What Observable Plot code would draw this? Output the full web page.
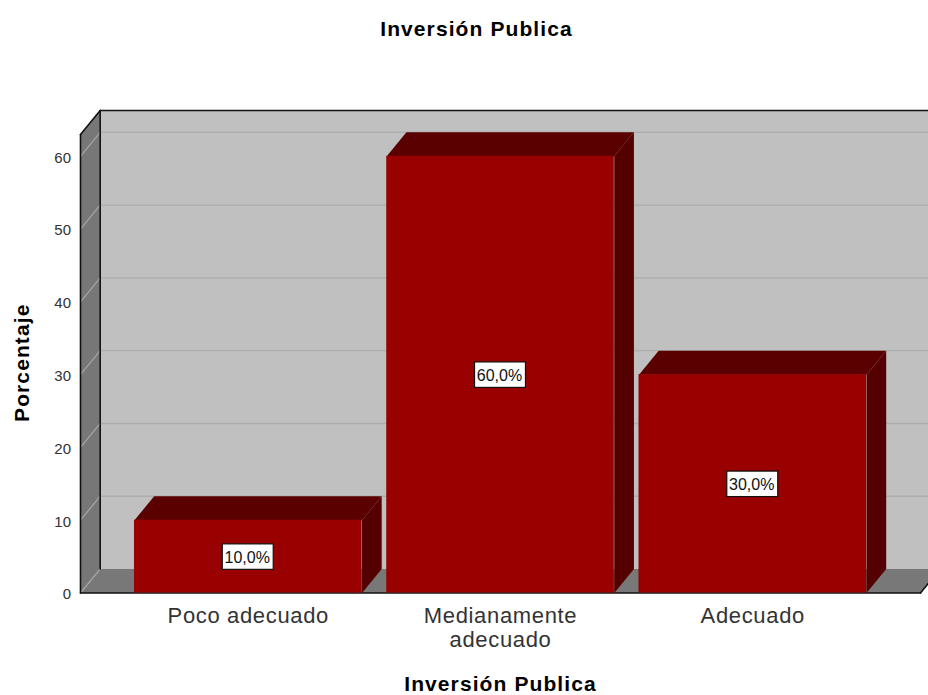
<!DOCTYPE html>
<html>
<head>
<meta charset="utf-8">
<script src="https://cdn.jsdelivr.net/npm/d3@7"></script>
<script src="https://cdn.jsdelivr.net/npm/@observablehq/plot@0.6"></script>
<style>
html,body{margin:0;padding:0;background:#fff}
svg{display:block}
svg g[font-weight="bold"]{letter-spacing:1.1px}
svg g[font-size="22"]{letter-spacing:.65px}
</style>
</head>
<body>
<div id="chart"></div>
<script>
const categories = ["Poco adecuado", "Medianamente\nadecuado", "Adecuado"];
const values = [10, 60, 30];
const valueLabels = ["10,0%", "60,0%", "30,0%"];
const yTicks = [0, 10, 20, 30, 40, 50, 60];
const titleText = "Inversión Publica";
const xLabel = "Inversión Publica";
const yLabel = "Porcentaje";

const xDomain = [-0.665, 2.665];
const yDomain = [0, 63];
const depthX = 0.078;    // 3D offset, x units
const depthY = 3.3;      // 3D offset, y units
const barHalf = 0.451;
const boxHalfX = 0.101, boxHalfY = 1.75;
const FONT = "Liberation Sans, Arial, sans-serif";

const poly = (pts, opts) => Plot.line(pts.map(([x, y]) => ({x, y})), {x: "x", y: "y", curve: "linear", stroke: "none", ...opts});
const seg = (a, b, stroke, strokeWidth = 1.6) => Plot.line([{x: a[0], y: a[1]}, {x: b[0], y: b[1]}], {x: "x", y: "y", stroke, strokeWidth});

const [x0, x1] = xDomain, [y0, y1] = yDomain;
const xb0 = x0 + depthX, xb1 = x1 + depthX, yb0 = y0 + depthY, yb1 = y1 + depthY;

const barMarks = values.flatMap((v, i) => {
  const l = i - barHalf, r = i + barHalf;
  return [
    poly([[l, v], [l + depthX, v + depthY], [r + depthX, v + depthY], [r, v]], {fill: "#5a0000"}),
    poly([[r, 0], [r + depthX, depthY], [r + depthX, v + depthY], [r, v]], {fill: "#550000"}),
    Plot.rect([{l, r, v}], {x1: "l", x2: "r", y1: 0, y2: "v", fill: "#990000"})
  ];
});

const chart = Plot.plot({
  width: 928,
  height: 695,
  marginLeft: 80,
  marginRight: 8,
  marginTop: 134,
  marginBottom: 102.5,
  style: {fontFamily: FONT, background: "#fff", color: "#000"},
  x: {domain: xDomain, label: null},
  y: {domain: yDomain, label: null},
  marks: [
    // back wall, left wall, floor
    poly([[xb0, yb0], [xb0, yb1], [xb1, yb1], [xb1, yb0]], {fill: "#c0c0c0"}),
    poly([[x0, y0], [x0, y1], [xb0, yb1], [xb0, yb0]], {fill: "#777777"}),
    poly([[x0, y0], [xb0, yb0], [xb1, yb0], [x1, y0]], {fill: "#787878"}),
    // gridlines on the wall and their slants on the left wall
    ...yTicks.filter(t => t > 0).map(t => seg([xb0, t + depthY], [xb1, t + depthY], "#adadad", 1.4)),
    ...yTicks.map(t => seg([x0, t], [xb0, t + depthY], "#a6a6a6", 1.2)),
    // wall outlines
    seg([x0, y0], [x0, y1], "#111"),
    seg([xb0, yb0], [xb0, yb1], "#111"),
    seg([x0, y1], [xb0, yb1], "#111"),
    seg([xb0, yb1], [xb1, yb1], "#111"),
    seg([x0, y0], [x1, y0], "#111"),
    seg([x1, y0], [xb1, yb0], "#111"),
    ...barMarks,
    // value labels
    Plot.rect(values, {
      x1: (v, i) => i - boxHalfX, x2: (v, i) => i + boxHalfX,
      y1: v => v / 2 - boxHalfY, y2: v => v / 2 + boxHalfY,
      dy: 0.5, fill: "#fff", stroke: "#111", strokeWidth: 1.2
    }),
    Plot.text(values, {
      x: (v, i) => i, y: v => v / 2, text: (v, i) => valueLabels[i],
      dx: -1, dy: 1, fontSize: 16, fill: "#111", fontFamily: FONT
    }),
    // axes
    Plot.axisY({ticks: yTicks, tickSize: 0, tickPadding: 9.5, dy: 1.5, fontSize: 15, label: null, fill: "#333"}),
    Plot.axisX({
      ticks: [0, 1, 2], tickFormat: i => categories[i], tickSize: 0, tickPadding: 14,
      fontSize: 22, lineHeight: 1.05, label: null, fill: "#333"
    }),
    // titles
    Plot.text([titleText], {frameAnchor: "top", dx: -24, dy: -105, fontSize: 21, fontWeight: "bold", fill: "#000", lineAnchor: "middle"}),
    Plot.text([xLabel], {frameAnchor: "bottom", dy: 90.8, fontSize: 21, fontWeight: "bold", fill: "#000", lineAnchor: "middle"}),
    Plot.text([yLabel], {frameAnchor: "left", dx: -58, dy: -1, rotate: -90, fontSize: 21, fontWeight: "bold", fill: "#000", textAnchor: "middle"})
  ]
});
document.getElementById("chart").appendChild(chart);
</script>
</body>
</html>
